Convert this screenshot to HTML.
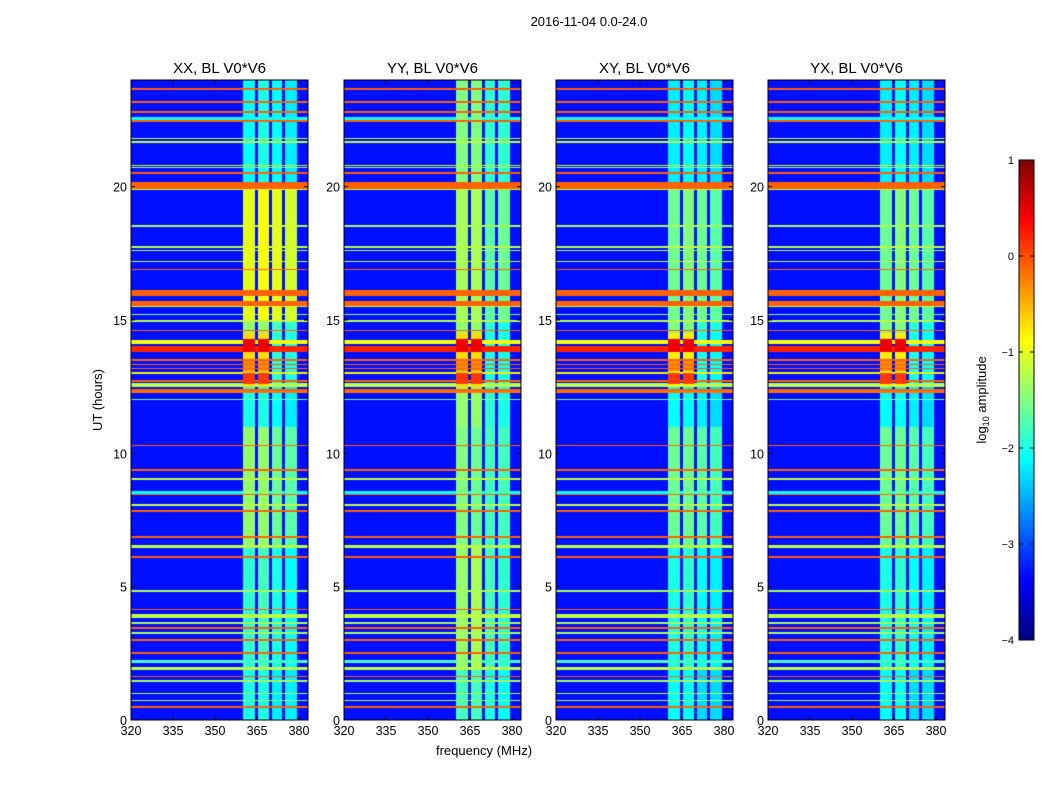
<!DOCTYPE html>
<html><head><meta charset="utf-8"><style>
body{margin:0;background:#fff;width:1050px;height:800px;overflow:hidden;position:relative;font-family:"Liberation Sans",sans-serif}
canvas{position:absolute}
svg{position:absolute;left:0;top:0}
</style></head><body>
<div id="canvases"></div>
<svg id="svg" width="1050" height="800"></svg>
<script>
const panelTitles=["XX, BL V0*V6","YY, BL V0*V6","XY, BL V0*V6","YX, BL V0*V6"];
const panelLefts=[131,344,556,768];
const xTicks=[320,335,350,365,380];
const yTicks=[0,5,10,15,20];
const cbTicks=[1,0,-1,-2,-3,-4];
const freqMin=320, freqMax=383.2, tMin=0, tMax=24, vMin=-4, vMax=1;
const background=-3.3;
const subBands=[[360,364.4],[365.5,369.3],[370.2,373.8],[375,379.2]];
const segBounds=[0,2,6.5,11,12.5,14.5,15,20,24];
const levelsXX=[[-2,-2,-2.2,-2.2],[-1.9,-1.8,-2,-2.1],[-1.4,-1.4,-1.6,-1.7],[-2,-2,-2.1,-2.2],[-0.7,-0.7,-1.9,-2],[-1.4,-1.4,-1.8,-1.9],[-1.0,-0.9,-1.0,-1.1],[-2.1,-2,-2.1,-2.2]];
const levelsYY=[[-1.8,-1.8,-2,-2.1],[-1.4,-1.3,-1.8,-1.9],[-1.5,-1.6,-1.8,-1.8],[-1.4,-1.4,-1.9,-2],[-0.7,-0.7,-2,-2],[-1.4,-1.4,-1.9,-2],[-1.3,-1.3,-1.7,-1.6],[-1.5,-1.5,-1.9,-1.9]];
const levelsXY=[[-2.1,-2.1,-2.3,-2.3],[-2,-1.9,-2.1,-2.2],[-1.6,-1.6,-1.7,-1.8],[-2.1,-2.1,-2.2,-2.3],[-0.8,-0.8,-2,-2.1],[-1.5,-1.5,-1.9,-2],[-1.6,-1.5,-1.6,-1.7],[-2.2,-2.1,-2.2,-2.3]];
const levelsYX=[[-2.1,-2.1,-2.3,-2.3],[-2,-1.9,-2.1,-2.2],[-1.6,-1.6,-1.7,-1.8],[-2.1,-2.1,-2.2,-2.3],[-0.8,-0.8,-2,-2.1],[-1.5,-1.5,-1.9,-2],[-1.6,-1.5,-1.6,-1.7],[-2.2,-2.1,-2.2,-2.3]];
const panelLevels=[levelsXX,levelsYY,levelsXY,levelsYX];
const hotSpots=[[13.8,14.3,0.45],[12.6,13.0,0.1],[13.1,13.5,-0.3]];
const lineTimes=[23.67,23.18,22.79,22.55,22.45,21.81,21.67,20.8,20.73,20.51,20.04,19.9,18.53,17.75,17.6,17.2,16.9,16.01,15.62,15.53,15.2,14.96,14.6,14.18,13.92,13.5,13.33,13.18,13.02,12.71,12.56,12.37,12.3,12.02,10.3,9.38,9.04,8.53,8.45,8.06,7.83,6.87,6.51,6.12,4.84,4.14,3.9,3.64,3.44,3.26,2.99,2.51,2.2,1.94,1.63,1.47,1.0,0.73,0.5];
const lineWidths=[0.06,0.06,0.06,0.15,0.07,0.06,0.06,0.06,0.05,0.06,0.24,0.06,0.05,0.07,0.05,0.06,0.06,0.22,0.22,0.05,0.06,0.06,0.06,0.15,0.22,0.06,0.06,0.06,0.06,0.06,0.12,0.05,0.05,0.05,0.06,0.06,0.06,0.15,0.06,0.06,0.06,0.06,0.12,0.06,0.06,0.06,0.12,0.06,0.06,0.06,0.06,0.06,0.12,0.12,0.06,0.06,0.06,0.06,0.07];
const lineValues=[-0.1,-0.1,-0.1,-2.1,-0.1,-1.2,-1.2,-1.2,-1.3,-0.1,-0.1,-1.2,-1.3,-1.2,-1.3,-1.2,-0.1,-0.1,-0.1,-1.2,-1.4,-1.2,-0.1,-0.9,0.2,-0.1,-0.1,-0.1,-0.8,-0.1,-1.2,-0.1,-0.2,-1.5,-0.1,-0.1,-1.2,-2.1,-0.1,-1.2,-0.1,-0.1,-1.2,-0.1,-1.3,-0.1,-1.2,-1.3,-0.1,-1.3,-0.1,-0.1,-1.8,-1.2,-0.1,-1.3,-1.2,-1.3,-0.1];

const pw=177, ph=640, top0=80;
const xs=(f,L)=>L+(f-freqMin)/(freqMax-freqMin)*pw;
const ys=t=>top0+ph-(t-tMin)/(tMax-tMin)*ph;
function jet(v){const t=Math.max(0,Math.min(1,(v-vMin)/(vMax-vMin)));const c=x=>Math.round(255*Math.max(0,Math.min(1,1.5-Math.abs(4*t-x))));return [c(3),c(2),c(1)];}
function value(p,f,t){
  let v=background;
  for(let b=0;b<subBands.length;b++){
    if(f>=subBands[b][0]&&f<=subBands[b][1]){
      let s=0;while(s<segBounds.length-2&&t>=segBounds[s+1])s++;
      v=Math.max(v,panelLevels[p][s][b]);
      if(b<2)for(const h of hotSpots){if(t>=h[0]&&t<=h[1])v=Math.max(v,h[2]);}
    }
  }
  for(let i=0;i<lineTimes.length;i++){if(Math.abs(t-lineTimes[i])<=lineWidths[i]/2)v=Math.max(v,lineValues[i]);}
  return v;
}
const cont=document.getElementById('canvases');
panelLefts.forEach((L,p)=>{
  const cv=document.createElement('canvas');cv.width=pw;cv.height=ph;
  cv.style.left=L+'px';cv.style.top=top0+'px';
  
  
  cont.appendChild(cv);
  const ctx=cv.getContext('2d');const img=ctx.createImageData(pw,ph);
  for(let y=0;y<ph;y++){const t=tMax-(y+0.5)/ph*(tMax-tMin);
    for(let x=0;x<pw;x++){const f=freqMin+(x+0.5)/pw*(freqMax-freqMin);
      const c=jet(value(p,f,t));const k=(y*pw+x)*4;img.data[k]=c[0];img.data[k+1]=c[1];img.data[k+2]=c[2];img.data[k+3]=255;}}
  ctx.putImageData(img,0,0);
});
const svg=document.getElementById('svg');const NS='http://www.w3.org/2000/svg';
function el(tag,attrs,txt){const e=document.createElementNS(NS,tag);for(const k in attrs)e.setAttribute(k,attrs[k]);if(txt!==undefined)e.textContent=txt;svg.appendChild(e);return e;}
let e=el('text',{x:589,y:26,'text-anchor':'middle','font-size':13},'2016-11-04 0.0-24.0');


panelLefts.forEach((L,p)=>{
  let r=el('rect',{x:L,y:top0,width:pw,height:ph,fill:'none',stroke:'#000','stroke-width':1});
  
  
  let t=el('text',{x:L+pw/2,y:73,'text-anchor':'middle','font-size':15},panelTitles[p]);
  
  
  xTicks.forEach(v=>{const x=xs(v,L);
    el('line',{x1:x,x2:x,y1:top0+ph,y2:top0+ph-4,stroke:'#000'});
    el('line',{x1:x,x2:x,y1:top0,y2:top0+4,stroke:'#000'});
    let lt=el('text',{x:x,y:735,'text-anchor':'middle','font-size':12.5},String(v));
    
    });
  yTicks.forEach(v=>{const y=ys(v);
    el('line',{x1:L,x2:L+4,y1:y,y2:y,stroke:'#000'});
    el('line',{x1:L+pw,x2:L+pw-4,y1:y,y2:y,stroke:'#000'});
    let lt=el('text',{x:L-4,y:y+5,'text-anchor':'end','font-size':12.5},String(v));
    
    });
});
e=el('text',{x:0,y:0,'text-anchor':'middle','font-size':13,transform:'translate(102,400) rotate(-90)'},'UT (hours)');


e=el('text',{x:484,y:755,'text-anchor':'middle','font-size':13},'frequency (MHz)');


const cbX=1019,cbW=15,cbTop=160,cbH=480;
const cbY=v=>cbTop+(vMax-v)/(vMax-vMin)*cbH;
for(let i=0;i<cbH;i++){const v=vMax-(i+0.5)/cbH*(vMax-vMin);const c=jet(v);
  el('rect',{x:cbX,y:cbTop+i,width:cbW,height:1.2,fill:`rgb(${c[0]},${c[1]},${c[2]})`});}
e=el('rect',{x:cbX,y:cbTop,width:cbW,height:cbH,fill:'none',stroke:'#000'});


cbTicks.forEach(v=>{const y=cbY(v);
  el('line',{x1:cbX,x2:cbX+4,y1:y,y2:y,stroke:'#000'});
  el('line',{x1:cbX+cbW,x2:cbX+cbW-4,y1:y,y2:y,stroke:'#000'});
  let lt=el('text',{x:1014,y:y+4,'text-anchor':'end','font-size':11},v<0?'\u2212'+(-v):String(v));
  
  });
e=el('text',{x:0,y:0,'text-anchor':'middle','font-size':13,transform:'translate(986,400) rotate(-90)'});


e.innerHTML='log<tspan font-size="9" dy="3">10</tspan><tspan dy="-3"> amplitude</tspan>';
</script>
</body></html>
